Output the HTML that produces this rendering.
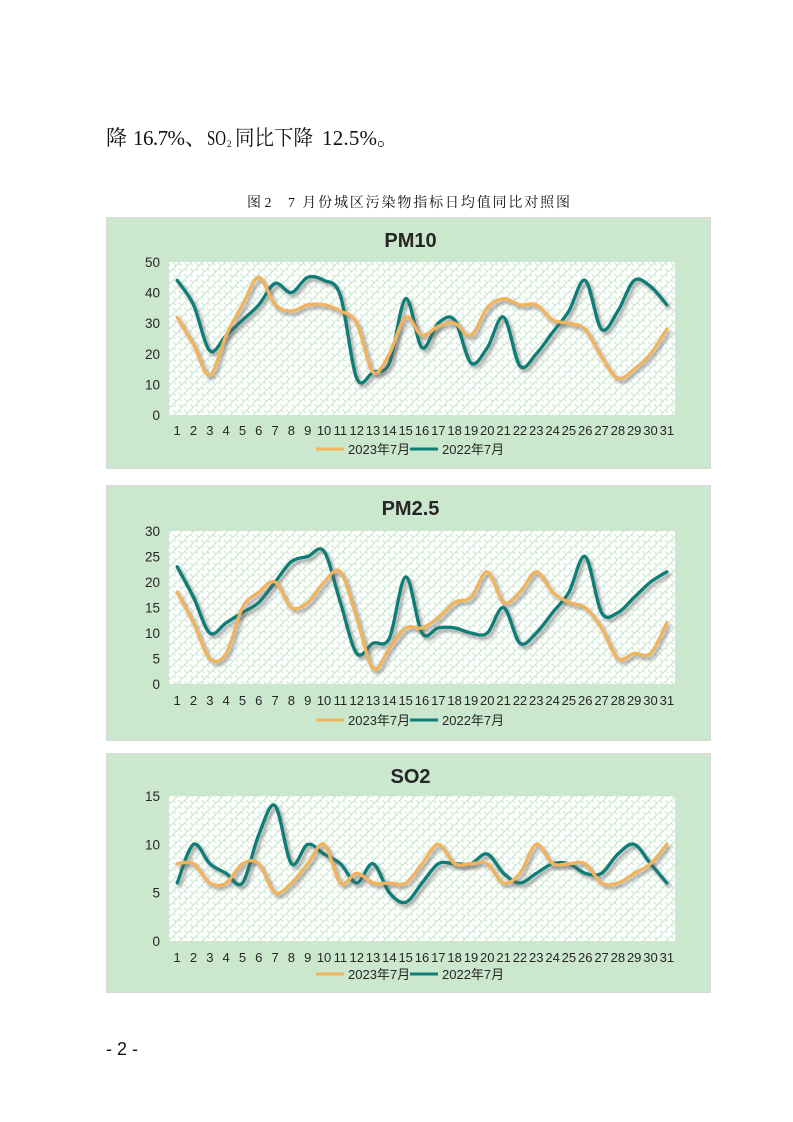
<!DOCTYPE html>
<html><head><meta charset="utf-8">
<style>
html,body{margin:0;padding:0;background:#fff;}
svg{display:block;}
.t{font-family:"Liberation Sans","Noto Sans CJK SC",sans-serif;fill:#262626;}
.s{font-family:"Liberation Serif","Noto Serif CJK SC",serif;fill:#111;}
</style></head>
<body>
<svg id="sv" width="793" height="1122" viewBox="0 0 793 1122" xmlns="http://www.w3.org/2000/svg">
<defs>
<pattern id="hp" width="8" height="8" patternUnits="userSpaceOnUse" patternTransform="rotate(-45)">
<rect width="8" height="8" fill="#ffffff"/>
<rect x="0" y="0" width="8" height="1.1" fill="#c9e7cf"/>
<rect x="0" y="4" width="1.1" height="4" fill="#c9e7cf"/>
<rect x="4" y="0" width="1.1" height="4" fill="#c9e7cf"/>
</pattern>
<filter id="sh" x="-5%" y="-10%" width="110%" height="130%">
<feDropShadow dx="2.5" dy="3" stdDeviation="1.6" flood-color="#606060" flood-opacity="0.6"/>
</filter>
</defs>

<!-- top text -->
<text class="s" x="106" y="145" font-size="21">降</text>
<text class="s" x="133" y="145" font-size="21" textLength="52" lengthAdjust="spacing">16.7%</text>
<text class="s" x="185" y="145" font-size="21">、</text>
<text class="s" x="207" y="145" font-size="21" textLength="19" lengthAdjust="spacingAndGlyphs">SO</text>
<text class="s" x="227" y="147" font-size="9">2</text>
<text class="s" x="235" y="145" font-size="21" textLength="78" lengthAdjust="spacingAndGlyphs">同比下降</text>
<text class="s" x="322" y="145" font-size="21" textLength="55" lengthAdjust="spacing">12.5%</text>
<text class="s" x="377" y="145" font-size="21">。</text>

<text class="s" x="247" y="207" font-size="14">图 2</text>
<text class="s" x="288" y="207" font-size="14" textLength="282" lengthAdjust="spacing">7 月份城区污染物指标日均值同比对照图</text>

<g id="charts"></g>

<text x="106" y="1055" font-size="18" font-family="Liberation Sans, sans-serif" fill="#111">- 2 -</text>
</svg>
<script>
(function(){
var NS="http://www.w3.org/2000/svg";
var g=document.getElementById("charts");
function el(tag,attrs,txt){var e=document.createElementNS(NS,tag);for(var k in attrs)e.setAttribute(k,attrs[k]);if(txt!==undefined)e.textContent=txt;g.appendChild(e);return e;}
var charts=[
 {title:"PM10",box:[106,217,711,469],pt:262,pb:415,max:50,step:10,titleY:247,xlY:435,legY:449,
  a:[32,23,13,26,36,45,36,34,36,36,34,30,14,20,32,26,29,30,26,35,38,36,36,31,30,28,19,12,15,20,28],
  b:[44,36,21,26,31,36,43,40,45,44,39,12,14,17,38,22,30,31,17,22,32,16,20,27,34,44,28,34,44,42,36]},
 {title:"PM2.5",box:[106,485,711,741],pt:531,pb:684,max:30,step:5,titleY:515,xlY:705,legY:720,
  a:[18,12,5,6,15,18,20,15,16,20,22,13,3,7,11,11,13,16,17,22,16,18,22,18,16,15,11,5,6,6,12],
  b:[23,17,10,12,14,16,20,24,25,26,16,6,8,9,21,10,11,11,10,10,15,8,10,14,18,25,14,14,17,20,22]},
 {title:"SO2",box:[106,753,711,993],pt:796,pb:941,max:15,step:5,titleY:783,xlY:962,legY:974,
  a:[8,8,6,6,8,8,5,6,8,10,6,7,6,6,6,8,10,8,8,8,6,7,10,8,8,8,6,6,7,8,10],
  b:[6,10,8,7,6,11,14,8,10,9,8,6,8,5,4,6,8,8,8,9,7,6,7,8,8,7,7,9,10,8,6]}
];
var PL=169,PR=675,W=PR-PL;
function X(i){return PL+(i+0.5)*W/31;}
function path(vals,c){
 var p=vals.map(function(v,i){return [X(i),c.pb-(v/c.max)*(c.pb-c.pt)];});
 var d="M"+p[0][0].toFixed(1)+","+p[0][1].toFixed(1);
 for(var i=0;i<p.length-1;i++){
  var p0=p[i>0?i-1:i],p1=p[i],p2=p[i+1],p3=p[i+2<p.length?i+2:i+1];
  var c1x=p1[0]+(p2[0]-p0[0])/6,c1y=p1[1]+(p2[1]-p0[1])/6;
  var c2x=p2[0]-(p3[0]-p1[0])/6,c2y=p2[1]-(p3[1]-p1[1])/6;
  d+=" C"+c1x.toFixed(1)+","+c1y.toFixed(1)+" "+c2x.toFixed(1)+","+c2y.toFixed(1)+" "+p2[0].toFixed(1)+","+p2[1].toFixed(1);
 }
 return d;
}
charts.forEach(function(c){
 var b=c.box;
 el("rect",{x:b[0]+0.5,y:b[1]+0.5,width:b[2]-b[0]-1,height:b[3]-b[1]-1,fill:"#cbe8ce",stroke:"#d9d9d9","stroke-width":1});
 el("rect",{x:PL,y:c.pt,width:W,height:c.pb-c.pt,fill:"url(#hp)"});
 el("text",{x:(b[0]+b[2])/2+2,y:c.titleY,"font-size":20,"font-weight":"bold","text-anchor":"middle","class":"t",fill:"#1a1a1a"},c.title);
 for(var v=0;v<=c.max;v+=c.step){
  var y=c.pb-(v/c.max)*(c.pb-c.pt);
  el("text",{x:160,y:y+5,"font-size":13.5,"text-anchor":"end","class":"t"},String(v));
 }
 for(var i=0;i<31;i++){
  el("text",{x:X(i),y:c.xlY,"font-size":13,"text-anchor":"middle","class":"t"},String(i+1));
 }
 el("path",{d:path(c.b,c),fill:"none",stroke:"#117d77","stroke-width":3.3,"stroke-linecap":"round","stroke-linejoin":"round",filter:"url(#sh)"});
 el("path",{d:path(c.a,c),fill:"none",stroke:"#f1b35c","stroke-width":3.3,"stroke-linecap":"round","stroke-linejoin":"round",filter:"url(#sh)"});
 el("line",{x1:316,y1:c.legY,x2:344,y2:c.legY,stroke:"#f1b35c","stroke-width":3});
 el("text",{x:348,y:c.legY+5,"font-size":13,"class":"t"},"2023年7月");
 el("line",{x1:410,y1:c.legY,x2:438,y2:c.legY,stroke:"#117d77","stroke-width":3});
 el("text",{x:442,y:c.legY+5,"font-size":13,"class":"t"},"2022年7月");
});
})();
</script>
</body></html>
